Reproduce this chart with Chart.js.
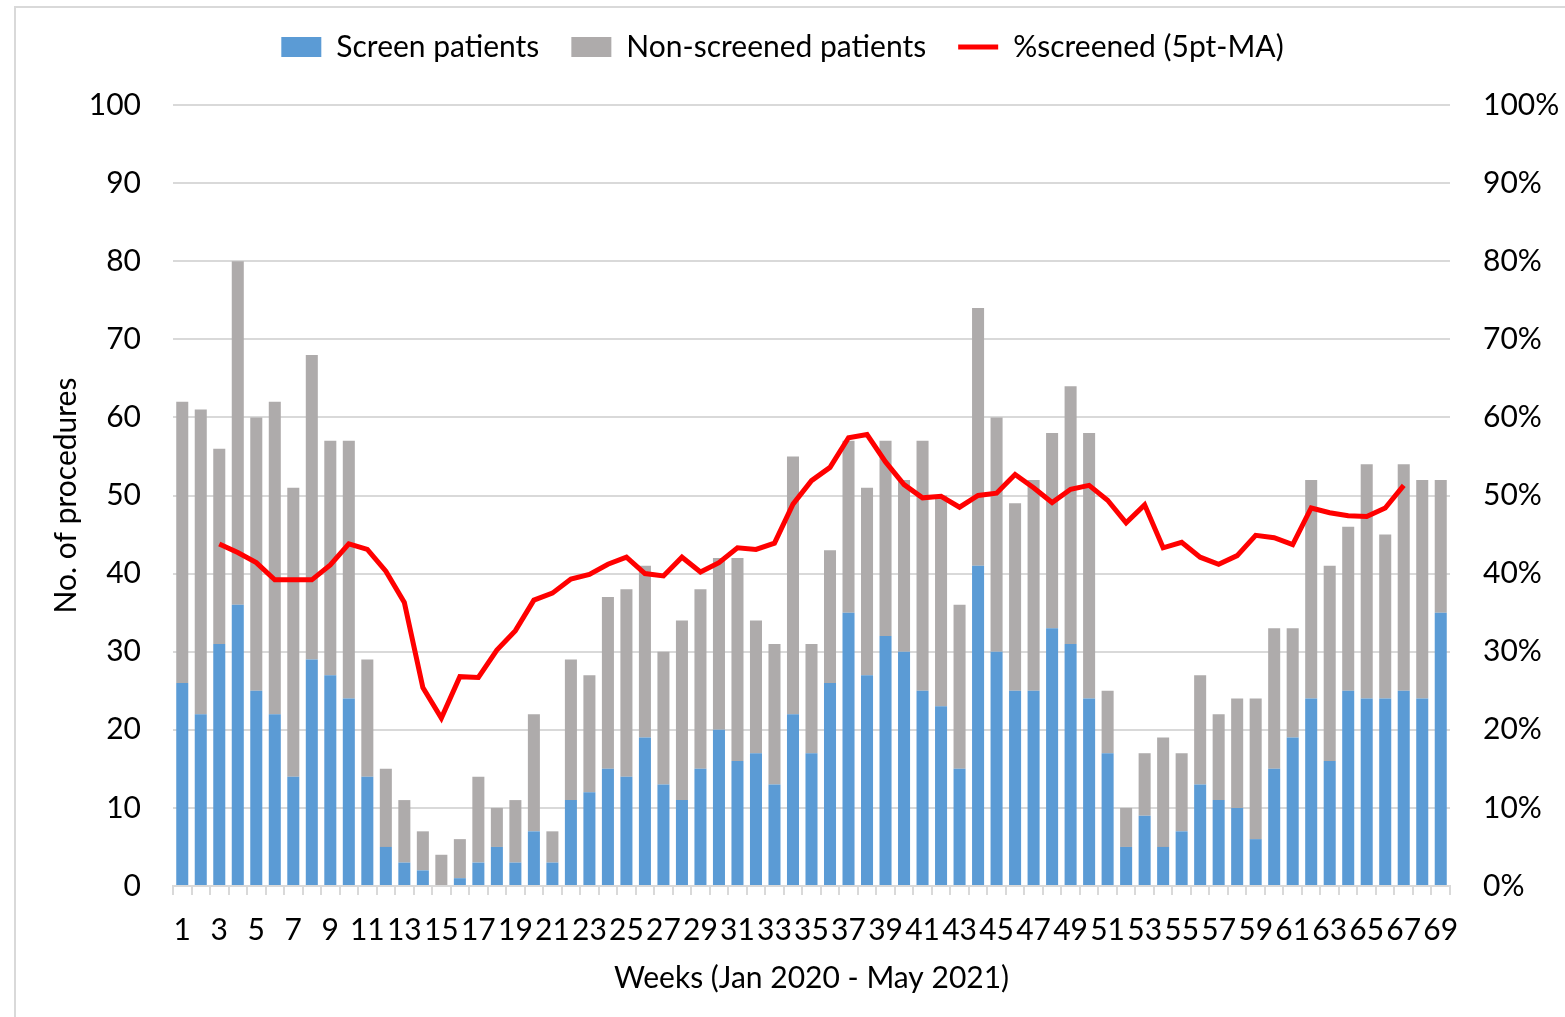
<!DOCTYPE html>
<html>
<head>
<meta charset="utf-8">
<script src="https://cdn.jsdelivr.net/npm/chart.js@4/dist/chart.umd.min.js"></script>
<style>
  html, body { margin: 0; padding: 0; background: #fff; }
  #wrap { width: 1565px; height: 1017px; position: relative; }
</style>
</head>
<body>
<div id="wrap"><canvas id="chart"></canvas></div>
<script>
const weeks = ['1','2','3','4','5','6','7','8','9','10','11','12','13','14','15','16','17','18','19','20',
  '21','22','23','24','25','26','27','28','29','30','31','32','33','34','35','36','37','38','39','40',
  '41','42','43','44','45','46','47','48','49','50','51','52','53','54','55','56','57','58','59','60',
  '61','62','63','64','65','66','67','68','69'];

const screened = [26,22,31,36,25,22,14,29,27,24,
  14,5,3,2,0,1,3,5,3,7,
  3,11,12,15,14,19,13,11,15,20,
  16,17,13,22,17,26,35,27,32,30,
  25,23,15,41,30,25,25,33,31,24,
  17,5,9,5,7,13,11,10,6,15,
  19,24,16,25,24,24,25,24,35];

const nonScreened = [36,39,25,44,35,40,37,39,30,33,
  15,10,8,5,4,5,11,5,8,15,
  4,18,15,22,24,22,17,23,23,22,
  26,17,18,33,14,17,22,24,25,22,
  32,27,21,33,30,24,27,25,33,34,
  8,5,8,14,10,14,11,14,18,18,
  14,28,25,21,30,21,29,28,17];

// 5 point moving average of % screened
const pctScreened = [null,null,43.8,42.7,41.4,39.2,39.2,39.2,41.1,43.8,
  43.1,40.3,36.3,25.4,21.5,26.8,26.7,30.2,32.7,36.6,
  37.5,39.3,39.9,41.2,42.1,40.0,39.7,42.1,40.2,41.4,
  43.3,43.1,43.9,48.9,51.9,53.6,57.4,57.8,54.3,51.4,
  49.7,49.9,48.5,50.0,50.3,52.7,51.0,49.1,50.8,51.3,
  49.4,46.5,48.8,43.3,44.0,42.1,41.2,42.3,44.9,44.6,
  43.7,48.4,47.8,47.4,47.3,48.4,51.3,null,null];

const FONT = 'Lato, "Open Sans", sans-serif';
const GRID = '#D9D9D9';

// frame of the original chart box (left and top edges visible)
const frame = {
  id: 'frame',
  beforeDraw(chart) {
    const ctx = chart.ctx;
    ctx.save();
    ctx.strokeStyle = GRID;
    ctx.lineWidth = 2;
    ctx.beginPath();
    ctx.moveTo(15, 1017);
    ctx.lineTo(15, 7);
    ctx.lineTo(1565, 7);
    ctx.stroke();
    ctx.restore();
  }
};

// give the legend box more height so the plot starts lower
const legendSpace = {
  id: 'legendSpace',
  afterInit(chart) {
    const lg = chart.legend;
    if (!lg || lg._patched) return;
    const fit = lg.fit;
    lg.fit = function () {
      fit.call(this);
      this.height += 33;
    };
    lg._patched = true;
  }
};

new Chart(document.getElementById('chart'), {
  type: 'bar',
  data: {
    labels: weeks,
    datasets: [
      {
        label: 'Screen patients',
        data: screened,
        backgroundColor: '#5B9BD5',
        stack: 's',
        order: 1,
        barPercentage: 0.65,
        categoryPercentage: 1
      },
      {
        label: 'Non-screened patients',
        data: nonScreened,
        backgroundColor: '#AEABAB',
        stack: 's',
        order: 1,
        barPercentage: 0.65,
        categoryPercentage: 1
      },
      {
        type: 'line',
        label: '%screened (5pt-MA)',
        data: pctScreened,
        yAxisID: 'y1',
        borderColor: '#FF0000',
        backgroundColor: '#FF0000',
        borderWidth: 5,
        pointRadius: 0,
        tension: 0,
        order: 0
      }
    ]
  },
  options: {
    responsive: true,
    maintainAspectRatio: false,
    animation: false,
    layout: { padding: { top: 0, left: 0, right: 0, bottom: 0 } },
    plugins: {
      tooltip: { enabled: false },
      legend: {
        position: 'top',
        labels: {
          font: { family: FONT, size: 30 },
          color: '#000',
          usePointStyle: true,
          pointStyleWidth: 40,
          boxHeight: 20,
          padding: 32,
          sort: (a, b) => a.datasetIndex - b.datasetIndex,
          generateLabels(chart) {
            const items = Chart.defaults.plugins.legend.labels.generateLabels(chart);
            items.forEach(it => {
              const ds = chart.data.datasets[it.datasetIndex];
              if (ds.type === 'line') {
                it.pointStyle = 'line';
                it.strokeStyle = ds.borderColor;
                it.lineWidth = 5;
              } else {
                it.pointStyle = 'rect';
                it.lineWidth = 0;
              }
            });
            return items;
          }
        }
      }
    },
    scales: {
      x: {
        stacked: true,
        grid: {
          display: true,
          drawOnChartArea: false,
          offset: true,
          color: GRID,
          lineWidth: 2,
          tickLength: 9
        },
        border: { color: GRID, width: 2 },
        ticks: {
          autoSkip: false,
          maxRotation: 0,
          font: { family: FONT, size: 30 },
          color: '#000',
          padding: 17,
          callback: (v, i) => (i % 2 === 0 ? weeks[i] : '')
        },
        title: {
          display: true,
          text: 'Weeks (Jan 2020 - May 2021)',
          font: { family: FONT, size: 30 },
          color: '#000',
          padding: { top: 0, bottom: 21 }
        },
        afterFit(scale) { scale.height = 131; }
      },
      y: {
        stacked: true,
        min: 0,
        max: 100,
        position: 'left',
        grid: { color: GRID, lineWidth: 2, drawTicks: false },
        border: { display: false },
        ticks: {
          stepSize: 10,
          font: { family: FONT, size: 30 },
          color: '#000',
          padding: 32
        },
        title: {
          display: true,
          text: 'No. of procedures',
          font: { family: FONT, size: 30 },
          color: '#000',
          padding: { top: 48, bottom: 0 }
        },
        afterFit(scale) { scale.width = 173; }
      },
      y1: {
        min: 0,
        max: 100,
        position: 'right',
        grid: { drawOnChartArea: false, drawTicks: false },
        border: { display: false },
        ticks: {
          stepSize: 10,
          font: { family: FONT, size: 30 },
          color: '#000',
          padding: 33,
          callback: v => v + '%'
        },
        afterFit(scale) { scale.width = 115; }
      }
    }
  },
  plugins: [frame, legendSpace]
});
</script>
</body>
</html>
